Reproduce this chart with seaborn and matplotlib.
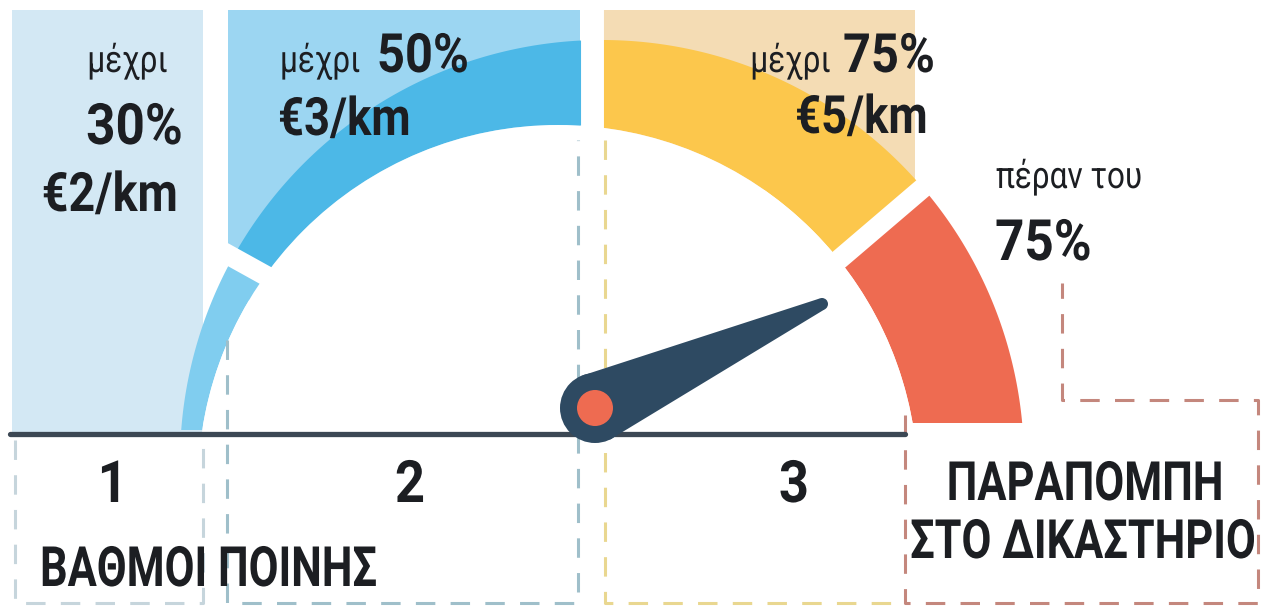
import numpy as np
import pandas as pd
import matplotlib
matplotlib.use("Agg")
import matplotlib.pyplot as plt
from matplotlib.patches import Polygon, Rectangle, Circle
from matplotlib.patheffects import AbstractPathEffect
from matplotlib.transforms import Affine2D
import seaborn as sns

# chart content
levels = ["1", "2", "3"]
limits_pct = [30, 50, 75]
fines_eur = [2, 3, 5]
upto_label = "μέχρι"
beyond_label = "πέραν του"
court_label = ["ΠΑΡΑΠΟΜΠΗ", "ΣΤΟ ΔΙΚΑΣΤΗΡΙΟ"]
title_label = "ΒΑΘΜΟΙ ΠΟΙΝΗΣ"

sns.set_theme(style="white")
plt.rcParams["font.family"] = ["Roboto", "DejaVu Sans"]
plt.rcParams["lines.scale_dashes"] = False

TXT = "#1c1e22"
seg_colors = ["#80cdef", "#4cb8e7", "#fcc74c", "#ee6b51"]
panel_colors = ["#d3e8f4", "#9cd6f2", "#f4dcb4"]
box_colors = ["#c6d5dc", "#9fbfca", "#e9d790", "#c4877d"]


class Condense(AbstractPathEffect):
    # squeeze glyphs horizontally, the reference uses a condensed face
    def __init__(self, sx, pivot="left"):
        super().__init__()
        self.sx = sx
        self.pivot = pivot

    def draw_path(self, renderer, gc, tpath, affine, rgbFace=None):
        ext = tpath.get_extents()
        px = {"left": 0.0, "center": (ext.x0 + ext.x1) / 2, "right": ext.x1}[self.pivot]
        tr = Affine2D().translate(-px, 0).scale(self.sx, 1).translate(px, 0) + affine
        renderer.draw_path(gc, tpath, tr, rgbFace)


fig = plt.figure(figsize=(12.68, 6.08), dpi=100)
ax = fig.add_axes([0, 0, 1, 1])

# gauge geometry (pixel space, y down)
O = np.array([602.0, 462.0])
R_OUT = 422.0
C_IN = np.array([558.0, 485.0])
R_IN = 360.0


def band(a1, a2):
    a = np.radians(np.linspace(a1, a2, 240))
    d = np.stack([np.cos(a), -np.sin(a)], axis=1)
    outer = O + R_OUT * d
    w = O - C_IN
    wd = d @ w
    t = -wd + np.sqrt(wd ** 2 - w @ w + R_IN ** 2)
    inner = O + t[:, None] * d
    return np.vstack([outer, inner[::-1]])


# base line
base = pd.DataFrame({"x": [10, 905], "y": [434, 434]})
sns.lineplot(data=base, x="x", y="y", color="#3c4854", lw=3.8, ax=ax,
             zorder=5, legend=False)
ax.set_xlim(0, 1268)
ax.set_ylim(608, 0)
ax.axis("off")

# background panels
ax.add_patch(Rectangle((12, 10), 191, 424, fc=panel_colors[0], ec="none"))
ax.add_patch(Rectangle((228, 10), 352, 290, fc=panel_colors[1], ec="none"))
ax.add_patch(Rectangle((603, 10), 312, 180, fc=panel_colors[2], ec="none"))

# gauge segments
seg_ranges = [(151, 195), (90, 151), (40.5, 90), (-15, 40.5)]
seg_bottom = [430, 430, 430, 423]
for (a1, a2), col, yb in zip(seg_ranges, seg_colors, seg_bottom):
    p = Polygon(band(a1, a2), closed=True, fc=col, ec="none")
    ax.add_patch(p)
    p.set_clip_path(Rectangle((0, 0), 1268, yb, transform=ax.transData))

disc = Circle(C_IN, R_IN, fc="white", ec="none")
ax.add_patch(disc)
disc.set_clip_path(Rectangle((0, 0), 1268, 433, transform=ax.transData))

# white gaps between segments
for ang in [151, 40.5]:
    a = np.radians(ang)
    d = np.array([np.cos(a), -np.sin(a)])
    p0, p1 = O + 280 * d, O + 450 * d
    ax.plot([p0[0], p1[0]], [p0[1], p1[1]], color="white", lw=14.5,
            solid_capstyle="butt", zorder=3)
ax.plot([591.5, 591.5], [0, 150], color="white", lw=16.5,
        solid_capstyle="butt", zorder=3)

# dashed boxes
dash = dict(lw=2.2, dashes=(14, 11), zorder=4)
boxes = [
    ([15, 15, 203, 203], [440, 603, 603, 437]),
    ([227, 227, 578, 578], [340, 603, 603, 140]),
    ([605, 605, 905], [140, 603, 603]),
    ([905, 905, 1258, 1258, 1062, 1062], [415, 603, 603, 400, 400, 283]),
]
for (xs, ys), col in zip(boxes, box_colors):
    ax.plot(xs, ys, color=col, **dash)

# needle
hub = np.array([595.0, 408.0])
tip = np.array([822.0, 304.0])
u = (tip - hub) / np.linalg.norm(tip - hub)
n = np.array([-u[1], u[0]])
needle = [hub + 35 * n, tip + 6 * n, tip - 6 * n, hub - 35 * n]
ax.add_patch(Polygon(needle, closed=True, fc="#2e4a62", ec="none", zorder=6))
ax.add_patch(Circle(hub, 35, fc="#2e4a62", ec="none", zorder=6))
ax.add_patch(Circle(tip, 6, fc="#2e4a62", ec="none", zorder=6))
ax.add_patch(Circle(hub, 18, fc=seg_colors[3], ec="none", zorder=7))


# texts
def label(x, y, s, size, ha="left", weight="bold", sx=0.86):
    ax.text(x, y, s, ha=ha, va="baseline", color=TXT, fontsize=size,
            fontweight=weight, zorder=8, path_effects=[Condense(sx, ha)])


thin = dict(weight="normal", sx=0.84)
label(168, 72, upto_label, 27, ha="right", **thin)
label(183, 144, f"{limits_pct[0]}%", 41, ha="right", sx=0.9)
label(178, 211, f"€{fines_eur[0]}/km", 39, ha="right")

label(280, 72, upto_label, 27, **thin)
label(377, 72, f"{limits_pct[1]}%", 39, sx=0.9)
label(278, 135, f"€{fines_eur[1]}/km", 38)

label(831, 72, upto_label, 27, ha="right", **thin)
label(843, 72, f"{limits_pct[2]}%", 39, sx=0.9)
label(928, 133, f"€{fines_eur[2]}/km", 38, ha="right")

label(996, 188, beyond_label, 27, **thin)
label(995, 260, f"{limits_pct[2]}%", 41, sx=0.9)

for lab, x in zip(levels, [113, 410, 794]):
    label(x, 502, lab, 42, ha="center", sx=0.9)

label(40, 586, title_label, 40, sx=0.78)
label(1085, 500, court_label[0], 39, ha="center", sx=0.8)
label(1256, 558, court_label[1], 39, ha="right", sx=0.8)

fig.savefig("out.png", dpi=100, facecolor="white")
